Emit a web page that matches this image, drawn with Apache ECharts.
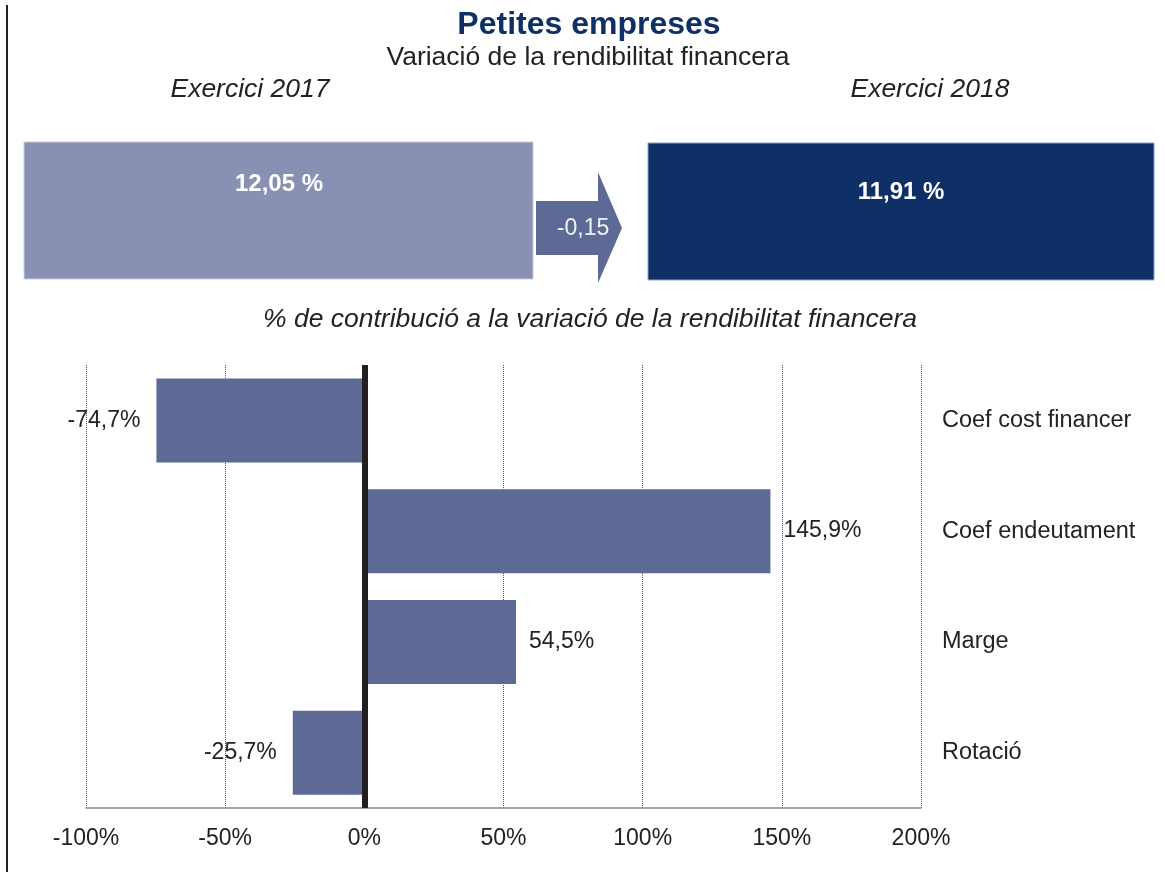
<!DOCTYPE html>
<html>
<head>
<meta charset="utf-8">
<script src="https://cdn.jsdelivr.net/npm/echarts@6/dist/echarts.min.js"></script>
<style>
    html, body { margin: 0; padding: 0; background: #fff; }
    #chart { width: 1165px; height: 872px; }
</style>
</head>
<body>
<div id="chart"></div>
<script>
    // dades
    var categories = ['Coef cost financer', 'Coef endeutament', 'Marge', 'Rotació'];
    var contributions = [-74.7, 145.9, 54.5, -25.7];
    var exerciseLabels = ['Exercici 2017', 'Exercici 2018'];
    var rendibilitat = [12.05, 11.91];
    var variacio = -0.15;
    var axisTicks = { min: -100, max: 200, step: 50 };

    var font = '"Liberation Sans", Arial, sans-serif';
    var barColor = '#5d6a96';

    function fmt(v, dec) {
        return v.toFixed(dec).replace('.', ',');
    }

    var chart = echarts.init(document.getElementById('chart'));

    var option = {
        animation: false,
        textStyle: { fontFamily: font },
        grid: { left: 86, right: 244, top: 365, bottom: 64, containLabel: false },
        xAxis: {
            type: 'value',
            min: axisTicks.min,
            max: axisTicks.max,
            interval: axisTicks.step,
            axisLine: { show: true, lineStyle: { color: '#8a8a8a', width: 1.5 } },
            axisTick: { show: false },
            axisLabel: {
                formatter: '{value}%', fontSize: 23, color: '#222', margin: 19, fontFamily: font
            },
            splitLine: { show: true, lineStyle: { color: '#3355a0', width: 1, type: 'dotted' } }
        },
        yAxis: {
            type: 'category',
            data: categories,
            inverse: true,
            position: 'right',
            axisLine: { show: false },
            axisTick: { show: false },
            axisLabel: { align: 'left', margin: 21, fontSize: 23.5, color: '#222', fontFamily: font }
        },
        series: [{
            type: 'bar',
            barWidth: 84,
            itemStyle: { color: barColor },
            data: contributions.map(function (v) {
                return {
                    value: v,
                    label: { position: v < 0 ? 'left' : 'right', distance: v < 0 ? 16 : 13 }
                };
            }),
            label: {
                show: true, fontSize: 23, color: '#222', fontFamily: font,
                formatter: function (p) { return fmt(p.value, 1) + '%'; }
            },
            markLine: {
                silent: true,
                symbol: 'none',
                label: { show: false },
                lineStyle: { color: '#231f20', width: 6, type: 'solid' },
                data: [{ xAxis: 0 }]
            }
        }],
        graphic: [
            // linia vertical esquerra
            { type: 'rect', shape: { x: 6, y: 5, width: 2, height: 867 }, style: { fill: '#222' } },
            // titols
            { type: 'text', x: 589, y: 25, style: { text: 'Petites empreses', font: 'bold 32px ' + font, fill: '#0f3066', textAlign: 'center', textVerticalAlign: 'middle' } },
            { type: 'text', x: 588, y: 58, style: { text: 'Variació de la rendibilitat financera', font: '26.5px ' + font, fill: '#222', textAlign: 'center', textVerticalAlign: 'middle' } },
            { type: 'text', x: 250, y: 90, style: { text: exerciseLabels[0], font: 'italic 26.5px ' + font, fill: '#222', textAlign: 'center', textVerticalAlign: 'middle' } },
            { type: 'text', x: 930, y: 90, style: { text: exerciseLabels[1], font: 'italic 26.5px ' + font, fill: '#222', textAlign: 'center', textVerticalAlign: 'middle' } },
            // caixes
            { type: 'rect', shape: { x: 24, y: 142, width: 509, height: 137 }, style: { fill: '#8890b3', stroke: '#c8cde0', lineWidth: 1 } },
            { type: 'text', x: 279, y: 184, style: { text: fmt(rendibilitat[0], 2) + ' %', font: 'bold 24px ' + font, fill: '#fff', textAlign: 'center', textVerticalAlign: 'middle' } },
            { type: 'polygon', shape: { points: [[536, 201], [598, 201], [598, 172], [622, 228], [598, 283], [598, 255], [536, 255]] }, style: { fill: barColor } },
            { type: 'text', x: 583, y: 229, style: { text: fmt(variacio, 2), font: '23px ' + font, fill: '#f2f2f2', textAlign: 'center', textVerticalAlign: 'middle' } },
            { type: 'rect', shape: { x: 648, y: 143, width: 506, height: 137 }, style: { fill: '#0f3066', stroke: '#8aa0c8', lineWidth: 1 } },
            { type: 'text', x: 901, y: 192, style: { text: fmt(rendibilitat[1], 2) + ' %', font: 'bold 24px ' + font, fill: '#fff', textAlign: 'center', textVerticalAlign: 'middle' } },
            // subtitol grafic
            { type: 'text', x: 590, y: 320, style: { text: '% de contribució a la variació de la rendibilitat financera', font: 'italic 26.5px ' + font, fill: '#222', textAlign: 'center', textVerticalAlign: 'middle' } }
        ]
    };

    chart.setOption(option);
</script>
</body>
</html>
